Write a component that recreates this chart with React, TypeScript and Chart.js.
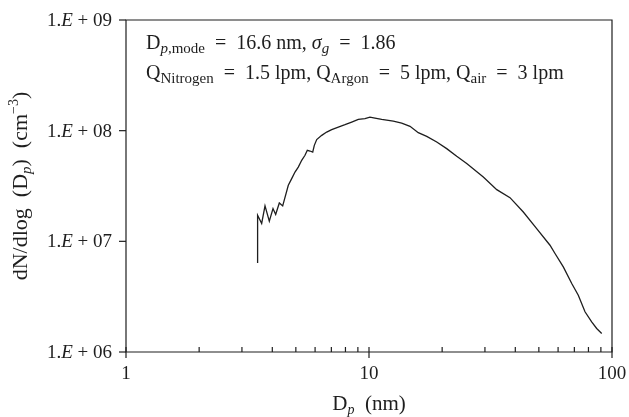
import React, { useEffect, useRef } from "react";
import { Chart, registerables } from "chart.js";

Chart.register(...registerables);

// Particle diameter (nm) and size distribution dN/dlog(Dp) (cm^-3)
const diameterNm = [
  3.48, 3.48, 3.617, 3.733, 3.888, 4.027, 4.13, 4.275, 4.414, 4.655,
  4.807, 4.96, 5.117, 5.285, 5.453, 5.574, 5.718, 5.866, 5.956, 6.093,
  6.39, 6.697, 7.022, 7.477, 7.966, 8.489, 9.036, 9.627, 10.09, 10.58,
  11.28, 12.59, 13.63, 14.75, 15.95, 17.28, 19.0, 20.88, 22.96, 25.24,
  29.54, 33.55, 38.04, 43.15, 48.98, 55.57, 58.27, 63.04, 68.29, 72.66,
  77.43, 82.48, 86.5, 90.7,
];
const concentration = [
  6.38e6, 1.72e7, 1.45e7, 2.09e7, 1.52e7, 1.98e7, 1.75e7, 2.22e7, 2.09e7, 3.21e7,
  3.69e7, 4.23e7, 4.69e7, 5.4e7, 5.99e7, 6.64e7, 6.55e7, 6.41e7, 7.37e7, 8.3e7,
  9.07e7, 9.71e7, 1.021e8, 1.078e8, 1.133e8, 1.196e8, 1.265e8, 1.284e8, 1.327e8, 1.299e8,
  1.265e8, 1.221e8, 1.171e8, 1.094e8, 9.59e7, 8.88e7, 7.89e7, 6.88e7, 5.86e7, 5.04e7,
  3.81e7, 2.93e7, 2.48e7, 1.84e7, 1.305e7, 9.22e6, 7.76e6, 5.87e6, 4.16e6, 3.26e6,
  2.31e6, 1.87e6, 1.63e6, 1.47e6,
];

const xMajorTicks = [1, 10, 100];
const xMajorLabels = ["1", "10", "100"];
const xMinorTicks = [2, 3, 4, 5, 6, 7, 8, 9, 20, 30, 40, 50, 60, 70, 80, 90];
const yMajorTicks = [1e6, 1e7, 1e8, 1e9];
const yExponentLabels = ["06", "07", "08", "09"];

const FONT = '"Liberation Serif", "Times New Roman", serif';
const INK = "#1e1e1e";
const EN = "\u2002";

type Seg = { t: string; it?: boolean; s?: number; dy?: number };

function drawRich(
  ctx: CanvasRenderingContext2D,
  segs: Seg[],
  x: number,
  y: number,
  align: "left" | "center" | "right",
  base = 19
) {
  const fontFor = (seg: Seg) => `${seg.it ? "italic " : ""}${seg.s ?? base}px ${FONT}`;
  let total = 0;
  for (const seg of segs) {
    ctx.font = fontFor(seg);
    total += ctx.measureText(seg.t).width;
  }
  let cx = align === "left" ? x : align === "center" ? x - total / 2 : x - total;
  ctx.textAlign = "left";
  ctx.textBaseline = "alphabetic";
  for (const seg of segs) {
    ctx.font = fontFor(seg);
    ctx.fillText(seg.t, cx, y + (seg.dy ?? 0));
    cx += ctx.measureText(seg.t).width;
  }
}

const decorPlugin = {
  id: "decor",
  afterDraw(chart: any) {
    const ctx: CanvasRenderingContext2D = chart.ctx;
    const { left, right, top, bottom } = chart.chartArea;
    const xs = chart.scales.x;
    const ys = chart.scales.y;
    ctx.save();
    ctx.strokeStyle = INK;
    ctx.fillStyle = INK;
    ctx.lineWidth = 1.2;

    // frame
    ctx.beginPath();
    ctx.moveTo(left, top);
    ctx.lineTo(right, top);
    ctx.lineTo(right, bottom);
    ctx.lineTo(left, bottom);
    ctx.closePath();
    ctx.stroke();

    // x major ticks (crossing) + labels
    xMajorTicks.forEach((v, i) => {
      const px = xs.getPixelForValue(v);
      ctx.beginPath();
      ctx.moveTo(px, bottom - 5);
      ctx.lineTo(px, bottom + 6);
      ctx.stroke();
      drawRich(ctx, [{ t: xMajorLabels[i] }], px, bottom + 27, "center");
    });
    // x minor ticks (inside)
    xMinorTicks.forEach((v) => {
      const px = xs.getPixelForValue(v);
      ctx.beginPath();
      ctx.moveTo(px, bottom - 5);
      ctx.lineTo(px, bottom);
      ctx.stroke();
    });
    // y major ticks (outside) + labels
    yMajorTicks.forEach((v, i) => {
      const py = ys.getPixelForValue(v);
      ctx.beginPath();
      ctx.moveTo(left - 7, py);
      ctx.lineTo(left, py);
      ctx.stroke();
      drawRich(
        ctx,
        [{ t: "1." }, { t: "E", it: true }, { t: " + " + yExponentLabels[i] }],
        left - 14,
        py + 6,
        "right"
      );
    });

    // x title
    drawRich(
      ctx,
      [{ t: "D" }, { t: "p", it: true, s: 14, dy: 4 }, { t: EN + "(nm)" }],
      (left + right) / 2,
      bottom + 58,
      "center",
      21
    );

    // y title
    ctx.save();
    ctx.translate(27, (top + bottom) / 2);
    ctx.rotate(-Math.PI / 2);
    drawRich(
      ctx,
      [
        { t: "dN/dlog" + EN + "(D" },
        { t: "p", it: true, s: 15, dy: 4 },
        { t: ")" + EN + "(cm" },
        { t: "−3", s: 14, dy: -9 },
        { t: ")" },
      ],
      0,
      0,
      "center",
      22
    );
    ctx.restore();

    // annotation
    drawRich(
      ctx,
      [
        { t: "D" },
        { t: "p", it: true, s: 15, dy: 4 },
        { t: ",mode", s: 15, dy: 4 },
        { t: EN + "=" + EN + "16.6 nm, " },
        { t: "σ", it: true },
        { t: "g", it: true, s: 15, dy: 4 },
        { t: EN + "=" + EN + "1.86" },
      ],
      left + 20,
      top + 29,
      "left",
      20
    );
    drawRich(
      ctx,
      [
        { t: "Q" },
        { t: "Nitrogen", s: 15, dy: 4 },
        { t: EN + "=" + EN + "1.5 lpm, Q" },
        { t: "Argon", s: 15, dy: 4 },
        { t: EN + "=" + EN + "5 lpm, Q" },
        { t: "air", s: 15, dy: 4 },
        { t: EN + "=" + EN + "3 lpm" },
      ],
      left + 20,
      top + 59,
      "left",
      20
    );
    ctx.restore();
  },
};

export default function App() {
  const ref = useRef<HTMLCanvasElement | null>(null);
  useEffect(() => {
    document.body.style.margin = "0";
    const canvas = ref.current;
    if (!canvas) return;
    const chart = new Chart(canvas, {
      type: "scatter",
      data: {
        datasets: [
          {
            data: diameterNm.map((x, i) => ({ x, y: concentration[i] })),
            showLine: true,
            borderColor: INK,
            borderWidth: 1.3,
            pointRadius: 0,
            tension: 0,
            fill: false,
          },
        ],
      },
      options: {
        responsive: false,
        animation: false,
        devicePixelRatio: 1,
        layout: { padding: { top: 20, right: 17, left: 0, bottom: 0 } },
        plugins: { legend: { display: false }, tooltip: { enabled: false } },
        scales: {
          x: {
            type: "logarithmic",
            min: 1,
            max: 100,
            ticks: { display: false },
            grid: { display: false },
            border: { display: false },
            afterFit: (s: any) => {
              s.height = 65;
            },
          },
          y: {
            type: "logarithmic",
            min: 1e6,
            max: 1e9,
            ticks: { display: false },
            grid: { display: false },
            border: { display: false },
            afterFit: (s: any) => {
              s.width = 126;
            },
          },
        },
      },
      plugins: [decorPlugin],
    } as any);
    return () => chart.destroy();
  }, []);
  return (
    <div style={{ width: 629, height: 417, background: "#fff" }}>
      <canvas ref={ref} width={629} height={417} style={{ display: "block" }} />
    </div>
  );
}
